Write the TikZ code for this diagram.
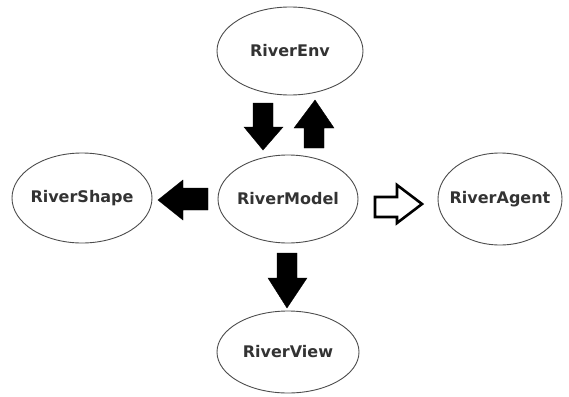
\documentclass[tikz,border=0pt]{standalone}
\usepackage{fontspec}
\setmainfont{DejaVu Sans}
\usetikzlibrary{shapes.geometric}
\begin{document}
\begin{tikzpicture}[x=1pt,y=-1pt,
  cls/.style={draw=black!70,line width=0.9pt,ellipse,inner sep=-25pt,
    font=\bfseries\fontsize{16}{18}\selectfont,text=black!80},
  solidarrow/.style={fill=black,draw=black,line width=0.4pt,line join=miter},
  hollowarrow/.style={fill=white,draw=black,line width=2.6pt,line join=miter}]
\useasboundingbox (0,0) rectangle (569,396);
% classes
\node[cls,minimum width=146pt,minimum height=88pt] (env) at (290,51) {RiverEnv};
\node[cls,minimum width=140pt,minimum height=88pt] (model) at (288,199) {RiverModel};
\node[cls,minimum width=140pt,minimum height=90pt] (shape) at (82,198) {RiverShape};
\node[cls,minimum width=124pt,minimum height=92pt] (agent) at (500,199) {RiverAgent};
\node[cls,minimum width=142pt,minimum height=82pt] (view) at (288,352) {RiverView};
% env -> model (down)
\filldraw[solidarrow] (253,103) -- (273,103) -- (273,127) -- (283,127) -- (263,150) -- (244,127) -- (253,127) -- cycle;
% model -> env (up)
\filldraw[solidarrow] (304,148) -- (324,148) -- (324,128) -- (334,128) -- (315,100) -- (294,128) -- (304,128) -- cycle;
% model -> shape (left)
\filldraw[solidarrow] (208,188) -- (208,210) -- (183,210) -- (183,220) -- (158,200) -- (183,180) -- (183,188) -- cycle;
% model -> agent (hollow right)
\draw[hollowarrow] (375,197) -- (375,217) -- (397,217) -- (397,223) -- (422,204) -- (397,185) -- (397,197) -- cycle;
% model -> view (down)
\filldraw[solidarrow] (277,253) -- (297,253) -- (297,278) -- (307,278) -- (287,308) -- (268,278) -- (277,278) -- cycle;
\end{tikzpicture}
\end{document}
